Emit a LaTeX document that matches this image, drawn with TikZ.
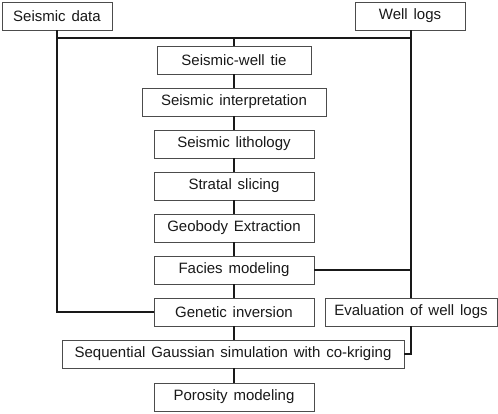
\documentclass[tikz,border=0pt]{standalone}
\usepackage{fontspec}
\setmainfont{Liberation Sans}[WordSpace=1.4]
\begin{document}
\begin{tikzpicture}[x=1pt,y=-1pt,
  box/.style={draw=black!70,line width=0.8pt,minimum height=28pt,inner sep=0pt,
    font=\fontsize{15}{18}\selectfont,text=black!90,fill=white},
  conn/.style={line width=1.4pt,black!90}]
\useasboundingbox (0,0) rectangle (498,414);
\node[box,minimum width=110pt] (sd) at (57,16) {Seismic data};
\node[box,minimum width=110pt] (wl) at (410,16) {Well logs};
\node[box,minimum width=154pt] (swt) at (234,60) {Seismic-well tie};
\node[box,minimum width=184pt] (si) at (234,102) {Seismic interpretation};
\node[box,minimum width=160pt] (sl) at (234,144) {Seismic lithology};
\node[box,minimum width=160pt] (ss) at (234,186) {Stratal slicing};
\node[box,minimum width=160pt] (ge) at (234,228) {Geobody Extraction};
\node[box,minimum width=160pt] (fm) at (234,270) {Facies modeling};
\node[box,minimum width=160pt] (gi) at (234,312) {Genetic inversion};
\node[box,minimum width=172pt] (ev) at (411,312) {Evaluation of well logs};
\node[box,minimum width=342pt] (sgs) at (233,354) {Sequential Gaussian simulation with co-kriging};
\node[box,minimum width=160pt] (pm) at (234,397) {Porosity modeling};
\coordinate (tl) at (57,38);
\coordinate (tc) at (234,38);
\coordinate (tr) at (411,38);
\coordinate (bl) at (57,312);
\coordinate (fr) at (411,270);
\coordinate (br) at (411,354);
\draw[conn] (sd.south) -- (bl) -- (gi.west);
\draw[conn] (tl) -- (tr);
\draw[conn] (tc) -- (swt.north);
\draw[conn] (tr) -- (ev.north);
\draw[conn] (wl.south) -| (tr);
\draw[conn] (fm.east) -- (fr);
\draw[conn] (swt.south) -- (si.north);
\draw[conn] (si.south) -- (sl.north);
\draw[conn] (sl.south) -- (ss.north);
\draw[conn] (ss.south) -- (ge.north);
\draw[conn] (ge.south) -- (fm.north);
\draw[conn] (fm.south) -- (gi.north);
\draw[conn] (gi.south) -- (gi.south |- sgs.north);
\draw[conn] (gi.south |- sgs.south) -- (pm.north);
\draw[conn] (ev.south) -- (br) -- (sgs.east);
\end{tikzpicture}
\end{document}
